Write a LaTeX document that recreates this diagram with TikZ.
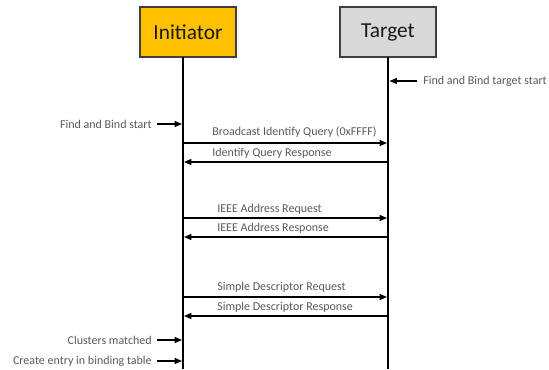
\documentclass[tikz,border=0pt]{standalone}
\usepackage{fontspec}
\setmainfont{Carlito}
\usetikzlibrary{arrows.meta}
\definecolor{ini}{HTML}{FFC000}
\definecolor{tgt}{HTML}{D9D9D9}
\definecolor{edge}{HTML}{404040}
\definecolor{lbl}{HTML}{595959}
\begin{document}
\begin{tikzpicture}[x=0.75pt,y=-0.75pt,
  actor/.style={draw=edge, line width=1.5pt, minimum width=72pt, minimum height=37.5pt,
    inner sep=0pt, font=\fontsize{16}{18}\selectfont, text=black!90},
  life/.style={line width=1.4pt, black},
  msg/.style={-{Triangle[length=5.5pt,width=4.5pt]}, line width=0.9pt, black},
  lab/.style={font=\fontsize{9}{10}\selectfont, text=lbl, inner sep=0pt}]
\useasboundingbox (0,0) rectangle (549,369);
% actors
\node[actor, fill=ini] (ini) at (188,32) {Initiator};
\node[actor, fill=tgt] (tgt) at (388,32) {Target};
% lifelines
\coordinate (iTop) at (183,57);
\coordinate (iBot) at (183,369);
\coordinate (tTop) at (388,57);
\coordinate (tBot) at (388,369);
\draw[life] (iTop) -- (iBot);
\draw[life] (tTop) -- (tBot);
% side notes
\node[lab, anchor=west] (n1) at (423,81) {Find and Bind target start};
\coordinate (n1s) at (417,81); \coordinate (n1e) at (389.5,81);
\draw[msg] (n1s) -- (n1e);
\node[lab, anchor=east] (n2) at (152,124) {Find and Bind start};
\coordinate (n2s) at (157,124); \coordinate (n2e) at (182,124);
\draw[msg] (n2s) -- (n2e);
\node[lab, anchor=east] (n3) at (152,340) {Clusters matched};
\coordinate (n3s) at (157,340); \coordinate (n3e) at (182,340);
\draw[msg] (n3s) -- (n3e);
\node[lab, anchor=east] (n4) at (152,361) {Create entry in binding table};
\coordinate (n4s) at (157,361); \coordinate (n4e) at (182,361);
\draw[msg] (n4s) -- (n4e);
% messages
\coordinate (a1) at (184,143); \coordinate (b1) at (387,143);
\draw[msg] (a1) -- (b1);
\node[lab, anchor=west] (m1) at (212,132) {Broadcast Identify Query (0xFFFF)};
\coordinate (a2) at (387,162); \coordinate (b2) at (184,162);
\draw[msg] (a2) -- (b2);
\node[lab, anchor=west] (m2) at (212,153) {Identify Query Response};
\coordinate (a3) at (184,218); \coordinate (b3) at (387,218);
\draw[msg] (a3) -- (b3);
\node[lab, anchor=west] (m3) at (217,209) {IEEE Address Request};
\coordinate (a4) at (387,237); \coordinate (b4) at (184,237);
\draw[msg] (a4) -- (b4);
\node[lab, anchor=west] (m4) at (217,228) {IEEE Address Response};
\coordinate (a5) at (184,297); \coordinate (b5) at (387,297);
\draw[msg] (a5) -- (b5);
\node[lab, anchor=west] (m5) at (217,287) {Simple Descriptor Request};
\coordinate (a6) at (387,316); \coordinate (b6) at (184,316);
\draw[msg] (a6) -- (b6);
\node[lab, anchor=west] (m6) at (217,307) {Simple Descriptor Response};
\end{tikzpicture}
\end{document}
